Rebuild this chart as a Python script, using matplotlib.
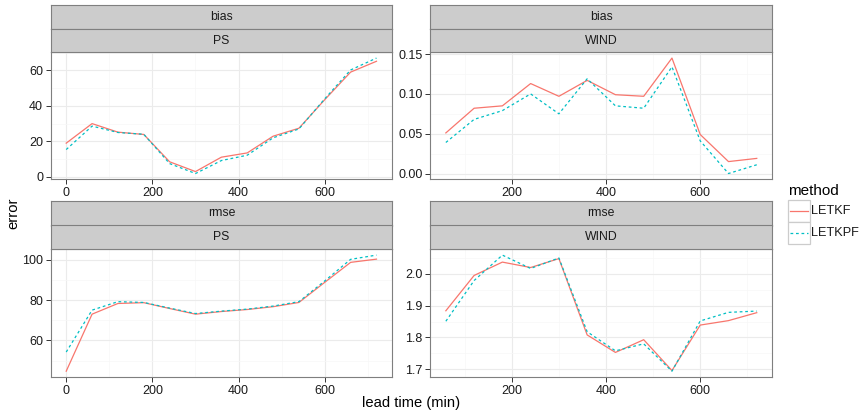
"""Faceted error curves for LETKF vs LETKPF"""

import matplotlib.pyplot as plt
import numpy as np

plt.rcParams['font.family'] = ['Liberation Sans', 'DejaVu Sans']

W, H = 859, 411

lead_ps = [0, 60, 120, 180, 240, 300, 360, 420, 480, 540, 600, 660, 720]
lead_wind = [60, 120, 180, 240, 300, 360, 420, 480, 540, 600, 660, 720]

bias_ps_letkf = [19.0, 30.0, 25.2, 23.9, 8.5, 3.0, 11.1, 13.5, 22.9, 27.4, 43.5, 59.0, 65.1]
bias_ps_letkpf = [15.4, 28.6, 25.0, 24.0, 7.5, 1.9, 9.2, 12.2, 22.0, 27.0, 44.0, 60.2, 66.9]
bias_wind_letkf = [0.051, 0.082, 0.085, 0.113, 0.097, 0.117, 0.099, 0.097, 0.145, 0.049, 0.015, 0.019]
bias_wind_letkpf = [0.039, 0.068, 0.079, 0.100, 0.075, 0.119, 0.085, 0.082, 0.134, 0.041, 0.000, 0.011]
rmse_ps_letkf = [44.7, 73.0, 78.3, 78.7, 75.8, 73.0, 74.3, 75.3, 76.7, 78.8, 88.8, 98.7, 100.3]
rmse_ps_letkpf = [54.2, 75.0, 79.2, 78.8, 76.0, 73.3, 74.5, 75.5, 77.0, 79.2, 89.5, 100.2, 102.3]
rmse_wind_letkf = [1.884, 1.995, 2.037, 2.020, 2.048, 1.808, 1.753, 1.793, 1.696, 1.839, 1.853, 1.878]
rmse_wind_letkpf = [1.851, 1.979, 2.059, 2.017, 2.050, 1.818, 1.758, 1.780, 1.694, 1.852, 1.879, 1.883]

methods = ['LETKF', 'LETKPF']
colors = {'LETKF': '#F8766D', 'LETKPF': '#00BFC4'}
styles = {'LETKF': '-', 'LETKPF': (0, (2.2, 2.2))}


def px_axes(fig, x0, y0, x1, y1):
    return fig.add_axes([x0 / W, 1 - y1 / H, (x1 - x0) / W, (y1 - y0) / H])


def expand(lo, hi, f=0.05):
    d = (hi - lo) * f
    return lo - d, hi + d


def add_strip(fig, x0, y0, x1, y1, label):
    ax = px_axes(fig, x0, y0, x1, y1)
    ax.set_facecolor('#cccccc')
    ax.set_xticks([])
    ax.set_yticks([])
    for s in ax.spines.values():
        s.set_color('#7f7f7f')
        s.set_linewidth(0.8)
    ax.text(0.5, 0.5, label, ha='center', va='center', fontsize=8.8, color='#1a1a1a',
            transform=ax.transAxes)


def panel(fig, box, x, ys, xmaj, xmin, ymaj, ymin, fmt, strip_y, labels):
    x0, y0, x1, y1 = box
    ax = px_axes(fig, x0, y0, x1, y1)
    for m, y in zip(methods, ys):
        ax.plot(x, y, color=colors[m], ls=styles[m], lw=0.9, zorder=3)
    ax.set_xlim(*expand(min(x), max(x)))
    allv = np.concatenate(ys)
    ax.set_ylim(*expand(allv.min(), allv.max()))
    ax.set_xticks(xmaj)
    ax.set_xticks(xmin, minor=True)
    ax.set_yticks(ymaj)
    ax.set_yticks(ymin, minor=True)
    ax.set_yticklabels([fmt.format(v) for v in ymaj])
    ax.grid(True, which='major', color='#ebebeb', lw=0.8)
    ax.grid(True, which='minor', color='#f7f7f7', lw=0.5)
    ax.set_axisbelow(True)
    ax.tick_params(which='major', length=3.5, width=0.7, color='#333333',
                   labelsize=9, labelcolor='#1a1a1a', pad=2)
    ax.tick_params(which='minor', length=0)
    for s in ax.spines.values():
        s.set_color('#7f7f7f')
        s.set_linewidth(0.8)
    add_strip(fig, x0, strip_y[0], x1, strip_y[1], labels[0])
    add_strip(fig, x0, strip_y[1], x1, y0, labels[1])
    return ax


fig = plt.figure(figsize=(W / 100, H / 100), dpi=100)
fig.set_facecolor('w')

xt = [0, 200, 400, 600]
xm = [100, 300, 500, 700]
xtw = [200, 400, 600]

panel(fig, (50.7, 52.3, 392, 179.3), lead_ps,
      [np.array(bias_ps_letkf), np.array(bias_ps_letkpf)],
      xt, xm, [0, 20, 40, 60], [10, 30, 50, 70], '{:.0f}',
      (5, 28.7), ('bias', 'PS'))
panel(fig, (430.3, 52.3, 772.3, 179.3), lead_wind,
      [np.array(bias_wind_letkf), np.array(bias_wind_letkpf)],
      xtw, xm, [0, 0.05, 0.10, 0.15], [0.025, 0.075, 0.125], '{:.2f}',
      (5, 28.7), ('bias', 'WIND'))
panel(fig, (50.7, 249.3, 392, 377), lead_ps,
      [np.array(rmse_ps_letkf), np.array(rmse_ps_letkpf)],
      xt, xm, [60, 80, 100], [50, 70, 90], '{:.0f}',
      (201, 225.5), ('rmse', 'PS'))
panel(fig, (430.3, 249.3, 772.3, 377), lead_wind,
      [np.array(rmse_wind_letkf), np.array(rmse_wind_letkpf)],
      xtw, xm, [1.7, 1.8, 1.9, 2.0], [1.75, 1.85, 1.95, 2.05], '{:.1f}',
      (201, 225.5), ('rmse', 'WIND'))

fig.text(411 / W, 1 - 403 / H, 'lead time (min)', ha='center', va='center', fontsize=10.6)
fig.text(13 / W, 1 - 213 / H, 'error', ha='center', va='center', fontsize=10.6, rotation=90)

# legend drawn by hand in ggplot style
lg = px_axes(fig, 786, 180, 859, 250)
lg.axis('off')
lg.set_xlim(0, 73)
lg.set_ylim(70, 0)
lg.text(2, 10.5, 'method', fontsize=11, va='center', ha='left')
for i, m in enumerate(methods):
    top = 20 + i * 22
    lg.add_patch(plt.Rectangle((1.5, top), 22, 22, fc='white', ec='#cccccc', lw=0.9))
    lg.plot([3.5, 21.5], [top + 11, top + 11], color=colors[m], ls=styles[m], lw=0.9)
    lg.text(25, top + 11, m, fontsize=9.2, va='center', ha='left', color='#1a1a1a')

fig.savefig('out.png', dpi=100)
